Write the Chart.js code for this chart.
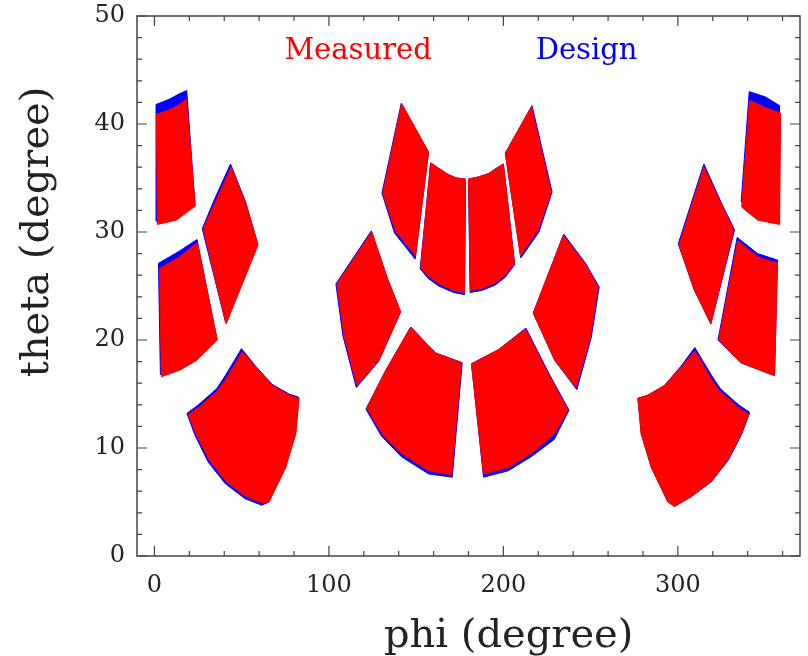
<!DOCTYPE html>
<html>
<head>
<meta charset="utf-8">
<title>phi / theta coverage</title>
<script src="https://cdn.jsdelivr.net/npm/chart.js@4.4.1/dist/chart.umd.min.js"></script>
<style>
  html, body { margin: 0; padding: 0; background: #fff; }
</style>
</head>
<body>
<canvas id="chart" width="808" height="656"></canvas>
<script>
// axis setup
var phiRange = [-10, 370];
var thetaRange = [0, 50];
var phiMajorTicks = [0, 100, 200, 300];
var thetaMajorTicks = [0, 10, 20, 30, 40, 50];
var xTitle = 'phi (degree)';
var yTitle = 'theta (degree)';
var legendNames = ['Measured', 'Design'];
var legendColors = ['#ff0000', '#0000ff'];
var legendPos = [[74.5, 46], [218.5, 46]];   // [phi, theta] of label start

// measured segments, [phi, theta] corners
var mA1 = [[1.1,40.9],[8.6,41.3],[14.3,41.8],[18.3,42.3],[23.4,32.4],[12.6,31.1],[1.7,30.7]];
var mA2 = [[44.0,36.0],[52.4,32.6],[59.4,28.8],[41.1,21.5],[28.0,30.3],[35.2,32.9]];
var mA3 = [[2.9,26.6],[14.3,27.7],[24.6,29.0],[36.0,20.0],[24.0,18.1],[14.3,17.2],[4.0,16.6]];
var mA4 = [[50.3,18.9],[58.1,17.5],[67.6,15.8],[77.1,14.9],[82.9,14.6],[81.0,11.3],[75.2,8.2],[65.7,5.0],[61.9,4.9],[52.4,5.5],[41.0,6.9],[31.4,8.9],[23.8,11.3],[19.4,13.1],[25.7,13.8],[36.2,15.3],[41.0,16.4]];
var mC1 = [[141.7,41.9],[157.1,37.4],[149.7,27.8],[138.1,30.1],[130.9,33.6]];
var mC2 = [[158.3,36.4],[162.9,35.9],[168.6,35.3],[173.1,35.0],[178.3,34.9],[177.7,24.4],[171.4,24.6],[162.9,25.2],[157.1,25.9],[152.6,26.7]];
var mC3 = [[180.0,34.9],[185.7,35.1],[191.4,35.4],[196.0,35.9],[200.0,36.3],[206.3,27.1],[201.0,26.0],[195.4,25.3],[188.0,24.8],[181.1,24.6]];
var mC4 = [[216.0,41.6],[227.4,33.7],[220.0,30.2],[209.7,27.8],[201.1,37.3]];
var mC5 = [[124.6,30.0],[133.3,25.8],[141.1,22.6],[128.6,18.1],[116.0,15.8],[108.6,20.4],[104.6,25.2]];
var mC6 = [[234.3,29.7],[246.7,27.1],[254.3,24.9],[249.7,20.2],[241.7,15.6],[229.5,18.1],[217.1,22.5]];
var mC7 = [[146.9,21.2],[161.1,18.8],[176.0,17.9],[170.3,7.5],[157.1,7.9],[141.7,9.5],[130.5,11.3],[121.7,13.7],[132.6,17.2]];
var mC8 = [[181.7,17.8],[197.1,19.1],[212.6,21.0],[225.7,16.9],[237.1,13.5],[228.6,11.2],[216.0,9.5],[202.9,8.2],[188.6,7.6]];
var mR1 = [[341.1,42.2],[350.3,41.5],[358.9,41.0],[358.3,30.7],[345.7,31.1],[336.6,32.3]];
var mR2 = [[314.9,36.0],[324.8,32.6],[332.0,30.2],[318.9,21.5],[309.5,24.6],[300.6,28.8]];
var mR3 = [[334.3,29.2],[345.7,27.7],[357.1,27.1],[355.4,16.7],[336.0,17.9],[323.4,20.0]];
var mR4 = [[309.7,19.0],[301.9,17.5],[292.4,15.8],[282.9,14.9],[277.1,14.6],[279.0,11.3],[284.8,8.2],[294.3,5.0],[298.1,4.6],[307.6,5.5],[319.0,6.9],[328.6,8.9],[336.2,11.3],[340.6,13.1],[334.3,13.8],[323.8,15.3],[319.0,16.4]];

// design segments
var dA1 = [[0.9,41.8],[8.6,42.3],[14.3,42.8],[18.5,43.1],[23.2,32.6],[12.4,31.4],[1.2,31.0]];
var dA2 = [[43.6,36.3],[52.2,32.8],[59.2,28.9],[40.8,21.6],[27.4,30.3],[34.6,33.1]];
var dA3 = [[2.3,27.1],[14.0,28.2],[24.4,29.3],[35.8,20.1],[23.8,18.1],[14.1,17.2],[3.4,16.8]];
var dA4 = [[49.9,19.2],[57.9,17.6],[67.4,15.9],[77.1,15.0],[82.7,14.7],[80.8,11.3],[75.0,8.2],[65.5,5.0],[61.5,4.7],[52.0,5.3],[40.6,6.7],[30.8,8.7],[23.2,11.2],[18.6,13.2],[25.2,14.0],[35.8,15.5],[40.6,16.7]];
var dC1 = [[141.4,41.9],[157.1,37.4],[149.4,27.5],[137.6,29.9],[130.4,33.6]];
var dC2 = [[158.3,36.4],[162.9,35.9],[168.6,35.3],[173.1,35.0],[178.3,34.9],[177.7,24.2],[171.4,24.4],[162.9,25.0],[156.9,25.7],[152.3,26.6]];
var dC3 = [[180.0,34.9],[185.7,35.1],[191.4,35.4],[196.0,35.9],[200.0,36.3],[206.5,27.0],[201.0,25.8],[195.4,25.1],[188.0,24.6],[180.9,24.4]];
var dC4 = [[216.4,41.7],[227.9,33.7],[220.4,30.0],[210.0,27.6],[201.1,37.3]];
var dC5 = [[124.3,30.1],[133.3,25.8],[141.1,22.6],[128.4,18.0],[115.7,15.6],[108.0,20.4],[104.0,25.2]];
var dC6 = [[234.6,29.8],[247.1,27.1],[254.9,24.9],[250.3,20.2],[242.1,15.4],[229.5,18.1],[217.1,22.5]];
var dC7 = [[146.9,21.2],[161.1,18.8],[176.4,17.9],[170.7,7.3],[157.1,7.6],[141.5,9.2],[130.1,11.1],[121.2,13.6],[132.6,17.2]];
var dC8 = [[181.7,17.8],[197.1,19.1],[212.9,21.1],[226.1,16.9],[237.6,13.5],[229.2,10.8],[216.0,9.2],[202.9,7.9],[188.6,7.3]];
var dR1 = [[340.9,43.0],[350.3,42.5],[358.3,41.7],[358.0,31.0],[345.7,31.3],[336.3,32.8]];
var dR2 = [[314.9,36.3],[325.2,32.6],[332.5,30.2],[318.9,21.5],[309.5,24.6],[300.2,28.9]];
var dR3 = [[334.0,29.5],[345.7,28.0],[357.1,27.4],[355.4,16.7],[336.0,17.9],[323.0,20.0]];
var dR4 = [[309.7,19.3],[301.9,17.6],[292.4,15.8],[282.9,14.9],[277.1,14.6],[279.0,11.3],[284.8,8.2],[294.3,5.0],[298.1,4.6],[307.8,5.5],[319.3,6.9],[329.0,8.9],[336.6,11.3],[341.2,13.3],[334.8,14.0],[324.3,15.5],[319.4,16.7]];

var measuredShapes = [mA1, mA2, mA3, mA4, mC1, mC2, mC3, mC4, mC5, mC6, mC7, mC8, mR1, mR2, mR3, mR4];
var designShapes = [dA1, dA2, dA3, dA4, dC1, dC2, dC3, dC4, dC5, dC6, dC7, dC8, dR1, dR2, dR3, dR4];

var serif = '"DejaVu Serif", "Liberation Serif", serif';

function shapeDataset(pts, color, order) {
  var closed = pts.concat([pts[0]]);
  return {
    data: closed.map(function (p) { return {x: p[0], y: p[1]}; }),
    showLine: true,
    fill: 'shape',
    tension: 0,
    backgroundColor: color,
    borderColor: color,
    borderWidth: 1,
    pointRadius: 0,
    order: order
  };
}

var datasets = [];
measuredShapes.forEach(function (s) { datasets.push(shapeDataset(s, legendColors[0], 0)); });
designShapes.forEach(function (s) { datasets.push(shapeDataset(s, legendColors[1], 1)); });

// frame, inward ticks on all four sides, titles and labels
var frameTicks = {
  id: 'frameTicks',
  afterDraw: function (chart) {
    var ctx = chart.ctx, a = chart.chartArea;
    var x = chart.scales.x, y = chart.scales.y;
    ctx.save();
    ctx.strokeStyle = '#444';
    ctx.lineWidth = 1.5;
    ctx.strokeRect(a.left, a.top, a.right - a.left, a.bottom - a.top);

    ctx.lineWidth = 1.2;
    ctx.beginPath();
    for (var v = 0; v <= 360; v += 20) {
      var px = x.getPixelForValue(v);
      var len = (phiMajorTicks.indexOf(v) >= 0) ? 10 : 5;
      ctx.moveTo(px, a.bottom); ctx.lineTo(px, a.bottom - len);
      ctx.moveTo(px, a.top); ctx.lineTo(px, a.top + len);
    }
    for (var t = 0; t <= 50; t += 2) {
      var py = y.getPixelForValue(t);
      var l2 = (thetaMajorTicks.indexOf(t) >= 0) ? 10 : 5;
      ctx.moveTo(a.left, py); ctx.lineTo(a.left + l2, py);
      ctx.moveTo(a.right, py); ctx.lineTo(a.right - l2, py);
    }
    ctx.stroke();

    // axis titles
    ctx.fillStyle = '#222';
    ctx.font = '40px ' + serif;
    ctx.textAlign = 'center';
    ctx.textBaseline = 'alphabetic';
    ctx.fillText(xTitle, x.getPixelForValue(203), 647);
    ctx.save();
    ctx.translate(48, y.getPixelForValue(30));
    ctx.rotate(-Math.PI / 2);
    ctx.fillText(yTitle, 0, 0);
    ctx.restore();

    // legend words
    ctx.font = '29px ' + serif;
    ctx.textAlign = 'left';
    for (var i = 0; i < legendNames.length; i++) {
      ctx.fillStyle = legendColors[i];
      ctx.fillText(legendNames[i], x.getPixelForValue(legendPos[i][0]), y.getPixelForValue(legendPos[i][1]));
    }
    ctx.restore();
  }
};

new Chart(document.getElementById('chart'), {
  type: 'scatter',
  data: { datasets: datasets },
  options: {
    responsive: false,
    animation: false,
    events: [],
    layout: { padding: { top: 16, right: 8, left: 0, bottom: 0 } },
    plugins: {
      legend: { display: false },
      tooltip: { enabled: false }
    },
    scales: {
      x: {
        type: 'linear',
        min: phiRange[0],
        max: phiRange[1],
        grid: { display: false, drawTicks: false },
        border: { display: false },
        ticks: {
          stepSize: 100,
          includeBounds: false,
          padding: 15,
          color: '#222',
          font: { family: serif, size: 24 },
          maxRotation: 0
        },
        afterFit: function (s) { s.height = 100; }
      },
      y: {
        type: 'linear',
        min: thetaRange[0],
        max: thetaRange[1],
        grid: { display: false, drawTicks: false },
        border: { display: false },
        ticks: {
          stepSize: 10,
          padding: 12,
          color: '#222',
          // small line height so the top label does not push the plot down
          font: { family: serif, size: 24, lineHeight: 0.3 }
        },
        afterFit: function (s) { s.width = 137; }
      }
    }
  },
  plugins: [frameTicks]
});
</script>
</body>
</html>
